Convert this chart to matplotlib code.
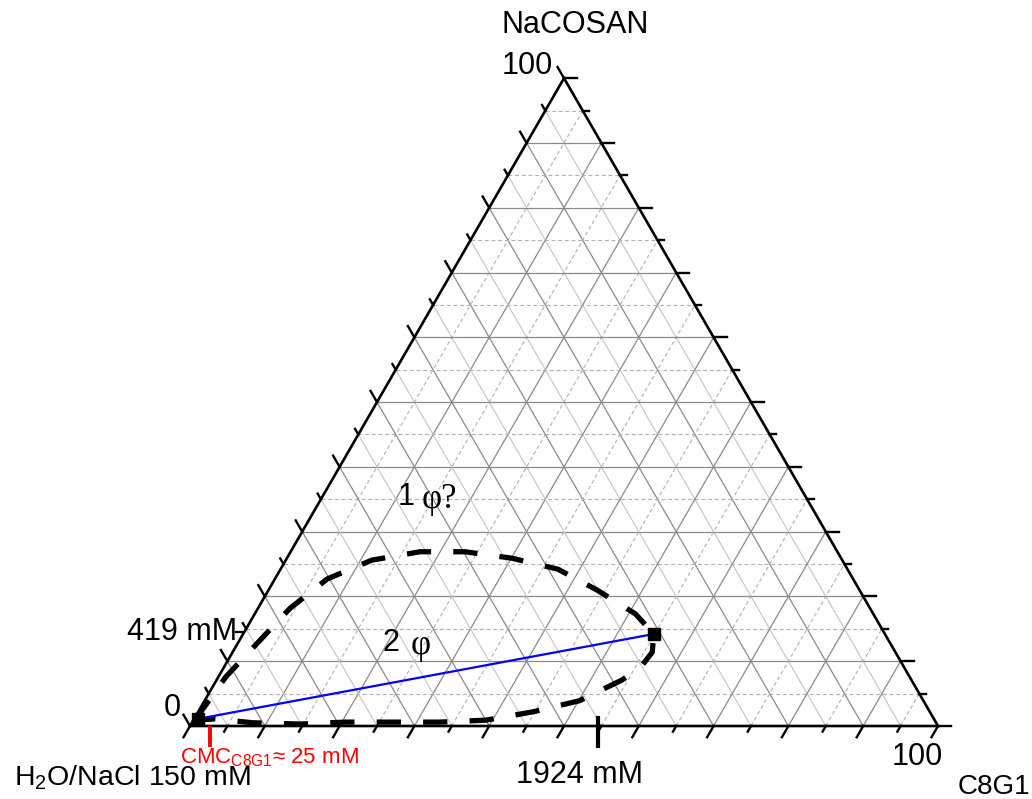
import numpy as np
import matplotlib
matplotlib.use('Agg')
import matplotlib.pyplot as plt

plt.rcParams['font.family'] = ['Liberation Sans', 'DejaVu Sans']
plt.rcParams['mathtext.fontset'] = 'custom'
plt.rcParams['mathtext.rm'] = 'Liberation Sans'

# ---------------- data (percent) ----------------
# two-phase boundary (C8G1 %, NaCOSAN %)
boundary_c8g1 = [0.2, 1.0, 2.7, 4.3, 7.0, 11.5, 17.3, 23.3, 30.1, 37.1, 43.9, 50.9,
                 54.9, 56.1, 55.7, 54.2, 50.1, 44.8, 39.1, 33.1, 26.7, 20.5, 14.6, 8.1, 2.8]
boundary_nacosan = [0.9, 7.6, 13.1, 18.2, 22.7, 25.6, 26.9, 26.9, 25.9, 24.2, 21.0, 17.3,
                    14.2, 11.4, 9.0, 7.1, 3.9, 2.2, 0.9, 0.6, 0.6, 0.6, 0.3, 0.5, 1.1]
# tie line endpoints
tie_c8g1 = [0.5, 54.9]
tie_nacosan = [1.1, 14.2]
# special axis marks
mark_nacosan_419 = 14.5   # 419 mM on NaCOSAN axis
mark_c8g1_1924 = 54.55    # 1924 mM on C8G1 axis
mark_cmc = 2.7            # CMC of C8G1
tick_steps = 20           # 5 % minor, 10 % major

S = np.sqrt(3) / 2


def tern(c, n):
    c = np.asarray(c, dtype=float) / 100.0
    n = np.asarray(n, dtype=float) / 100.0
    return c + n / 2, n * S


def px(x, y):
    return (x - 190) / 748.0, (726 - y) / 748.0


fig = plt.figure(figsize=(10.32, 7.99), dpi=100)
ax = fig.add_axes([0, 0, 1, 1])
ax.set_xlim(-190 / 748, (1032 - 190) / 748)
ax.set_ylim(-(799 - 726) / 748, 726 / 748)
ax.axis('off')

# ---------------- grid ----------------
maj_kw = dict(color='#8a8a8a', lw=0.9, zorder=1)
min_dash_kw = dict(color='#b0b0b0', lw=0.8, linestyle=(0, (3.5, 2.5)), zorder=1)
min_solid_kw = dict(color='#c4c4c4', lw=0.8, zorder=1)
for k in range(1, tick_steps):
    f = k / tick_steps
    major = (k % 2 == 0)
    # horizontal (constant NaCOSAN)
    ax.plot([f / 2, 1 - f / 2], [f * S, f * S], **(maj_kw if major else min_dash_kw))
    # parallel to left edge (constant C8G1)
    ax.plot([f, f + (1 - f) / 2], [0, (1 - f) * S], **(maj_kw if major else min_dash_kw))
    # parallel to right edge (constant water)
    ax.plot([1 - f, (1 - f) / 2], [0, (1 - f) * S], **(maj_kw if major else min_solid_kw))

# ---------------- edges ----------------
ax.plot([0, 1, 0.5, 0], [0, 0, S, 0], color='black', lw=1.9, zorder=5,
        solid_joinstyle='miter')

# ---------------- ticks ----------------
for k in range(tick_steps + 1):
    f = k / tick_steps
    L = (13 if k % 2 == 0 else 6.5) / 748.0
    # bottom axis
    ax.plot([f, f - 0.5 * L], [0, -S * L], color='black', lw=1.7, zorder=5)
    # right axis
    xr, yr = 1 - f / 2, f * S
    ax.plot([xr, xr + L], [yr, yr], color='black', lw=1.7, zorder=5)
    # left axis
    xl, yl = f / 2, f * S
    ax.plot([xl, xl - 0.5 * L], [yl, yl + S * L], color='black', lw=1.7, zorder=5)

# 419 mM tick
x419, y419 = tern(0, mark_nacosan_419)
ax.plot([x419, x419 - 8 / 748], [y419, y419], color='black', lw=1.6, zorder=5)
# 1924 mM tick
x1924, _ = tern(mark_c8g1_1924, 0)
ax.plot([x1924, x1924], [8 / 748, -20 / 748], color='black', lw=3, zorder=6)
# CMC tick
xcmc, _ = tern(mark_cmc, 0)
ax.plot([xcmc, xcmc], [-2 / 748, -19 / 748], color='#ff0000', lw=2.8, zorder=6)

# ---------------- boundary and tie line ----------------
bx, by = tern(boundary_c8g1 + boundary_c8g1[:1], boundary_nacosan + boundary_nacosan[:1])
ax.plot(bx, by, color='black', lw=3.8, linestyle=(0, (4.6, 4.2)), zorder=7,
        solid_capstyle='butt', dash_capstyle='butt')

tx, ty = tern(tie_c8g1, tie_nacosan)
ax.plot(tx, ty, color='#0000ff', lw=1.6, zorder=8)
ax.plot(tx, ty, linestyle='none', marker='s', ms=8.5, color='black', zorder=9)

# ---------------- text ----------------
fs = 22
ax.text(*px(575, 25), 'NaCOSAN', fontsize=fs, ha='center', va='center')
ax.text(*px(553, 66), '100', fontsize=fs, ha='right', va='center')
ax.text(*px(181, 708), '0', fontsize=fs, ha='right', va='center')
ax.text(*px(237, 632), '419 mM', fontsize=fs, ha='right', va='center')
ax.text(*px(580, 775), '1924 mM', fontsize=fs, ha='center', va='center')
ax.text(*px(917, 757), '100', fontsize=fs, ha='center', va='center')
ax.text(*px(994, 787), 'C8G1', fontsize=20, ha='center', va='center')
ax.text(*px(132, 778), r'H$_\mathregular{2}$O/NaCl 150 mM', fontsize=20.5,
        ha='center', va='center')
ax.text(*px(180, 758), r'CMC$_\mathregular{C8G1}$≈ 25 mM', fontsize=16,
        ha='left', va='center', color='#ff0000')

ax.text(*px(398, 497), '1', fontsize=fs, ha='left', va='center')
ax.text(*px(422, 499), 'φ?', fontsize=25, ha='left', va='center',
        family=['Liberation Serif', 'DejaVu Serif'])
ax.text(*px(383, 643), '2', fontsize=fs, ha='left', va='center')
ax.text(*px(411, 645), 'φ', fontsize=25, ha='left', va='center',
        family=['Liberation Serif', 'DejaVu Serif'])

fig.savefig('out.png', dpi=100)
